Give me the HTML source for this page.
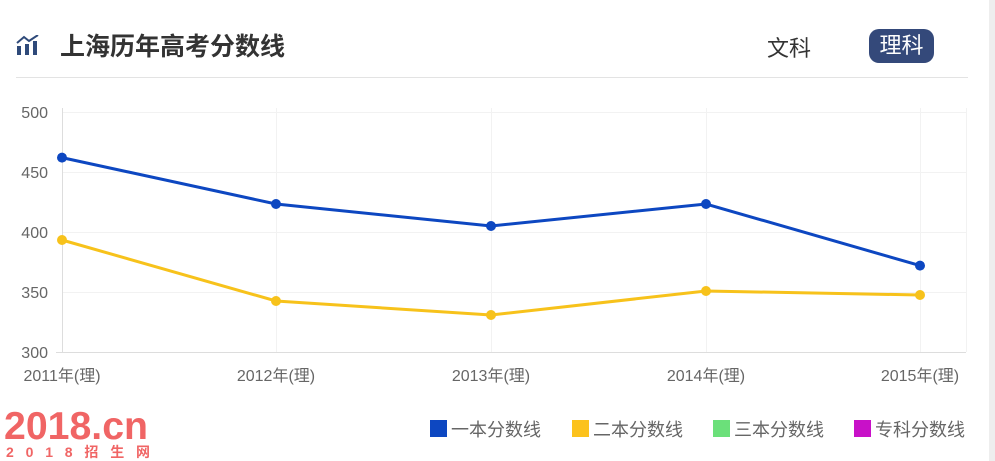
<!DOCTYPE html>
<html><head><meta charset="utf-8"><style>
body{margin:0;width:995px;height:461px;background:#fff;overflow:hidden;position:relative;font-family:"Liberation Sans","Noto Sans CJK SC",sans-serif}
.abs{position:absolute}
</style></head><body>
<div class="abs" style="left:989px;top:0;width:6px;height:461px;background:#eee"></div>
<svg class="abs" style="left:16px;top:35px" width="24" height="22" viewBox="0 0 24 22">
<rect x="1" y="11" width="4" height="9" fill="#2f4a7a"/><rect x="9" y="9" width="4" height="11" fill="#2f4a7a"/><rect x="17" y="6" width="4" height="14" fill="#2f4a7a"/>
<polyline points="1,8 8,2 13,6 22,0" fill="none" stroke="#2f4a7a" stroke-width="2"/></svg>
<div class="abs" style="left:60px;top:27px;font-size:25px;font-weight:bold;color:#333">上海历年高考分数线</div>
<div class="abs" style="left:767px;top:31px;font-size:22px;color:#333">文科</div>
<div class="abs" style="left:869px;top:29px;width:65px;height:34px;border-radius:10px;background:#34497a;color:#fff;font-size:22px;line-height:34px;text-align:center">理科</div>
<div class="abs" style="left:16px;top:77px;width:952px;height:1px;background:#e3e3e3"></div>
<svg class="abs" style="left:0;top:0" width="995" height="461">
<g stroke="#f2f2f2" stroke-width="1">
<line x1="62" y1="112.5" x2="966" y2="112.5"/><line x1="62" y1="172.5" x2="966" y2="172.5"/><line x1="62" y1="232.5" x2="966" y2="232.5"/><line x1="62" y1="292.5" x2="966" y2="292.5"/>
<line x1="276.5" y1="108" x2="276.5" y2="352"/><line x1="491.5" y1="108" x2="491.5" y2="352"/><line x1="706.5" y1="108" x2="706.5" y2="352"/><line x1="920.5" y1="108" x2="920.5" y2="352"/><line x1="966.5" y1="108" x2="966.5" y2="352"/>
</g>
<line x1="62.5" y1="108" x2="62.5" y2="352" stroke="#ddd"/>
<line x1="56" y1="352.5" x2="966" y2="352.5" stroke="#ddd"/>
<g fill="#666" font-size="16" text-anchor="end" font-family="Liberation Sans">
<text x="48" y="118">500</text><text x="48" y="178">450</text><text x="48" y="238">400</text><text x="48" y="298">350</text><text x="48" y="358">300</text></g>
<g fill="#666" font-size="16" text-anchor="middle" font-family="Liberation Sans,Noto Sans CJK SC">
<text x="62" y="381">2011年(理)</text><text x="276" y="381">2012年(理)</text><text x="491" y="381">2013年(理)</text><text x="706" y="381">2014年(理)</text><text x="920" y="381">2015年(理)</text></g>
<polyline points="62,157.6 276,204 491,226 706,204 920,265.6" fill="none" stroke="#0d47c1" stroke-width="3"/>
<polyline points="62,240 276,301 491,315 706,291 920,295" fill="none" stroke="#f7c21b" stroke-width="3"/>
<g fill="#0d47c1"><circle cx="62" cy="157.6" r="5"/><circle cx="276" cy="204" r="5"/><circle cx="491" cy="226" r="5"/><circle cx="706" cy="204" r="5"/><circle cx="920" cy="265.6" r="5"/></g>
<g fill="#f7c21b"><circle cx="62" cy="240" r="5"/><circle cx="276" cy="301" r="5"/><circle cx="491" cy="315" r="5"/><circle cx="706" cy="291" r="5"/><circle cx="920" cy="295" r="5"/></g>
<rect x="430" y="420" width="17" height="17" fill="#0d47c1"/><rect x="572" y="420" width="17" height="17" fill="#fcc21c"/><rect x="713" y="420" width="17" height="17" fill="#6be07a"/><rect x="854" y="420" width="17" height="17" fill="#c811c8"/>
<g fill="#666" font-size="18" font-family="Liberation Sans,Noto Sans CJK SC">
<text x="451" y="436">一本分数线</text><text x="593" y="436">二本分数线</text><text x="734" y="436">三本分数线</text><text x="875" y="436">专科分数线</text></g>
<text x="4" y="439" font-size="39" font-weight="bold" fill="#f06565" font-family="Liberation Sans" textLength="144" lengthAdjust="spacingAndGlyphs">2018.cn</text>
<text x="6" y="457" font-size="14" font-weight="bold" fill="#f06565" font-family="Liberation Sans,Noto Sans CJK SC" textLength="144">2018招生网</text>
</svg>
</body></html>
